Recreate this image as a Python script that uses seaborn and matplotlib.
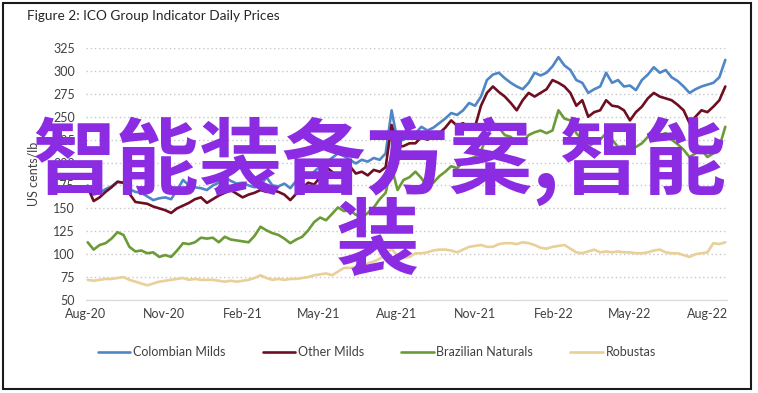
import pandas as pd
import matplotlib.pyplot as plt
import matplotlib.dates as mdates
import seaborn as sns

# weekly ICO group indicator prices (US cents/lb)
start_date = '2020-08-03'
colombian = [175, 165, 167, 171, 174, 179, 178, 171, 168, 167, 163, 159, 161, 162, 160, 170,
             181, 175, 173, 172, 170, 175, 178, 184, 180, 177, 178, 175, 173, 175, 184, 175,
             174, 177, 172, 180, 186, 183, 190, 196, 200, 205, 210, 207, 203, 199, 203, 201,
             205, 203, 210, 257, 223, 225, 228, 232, 239, 235, 238, 243, 248, 254, 252, 257,
             265, 262, 272, 290, 296, 298, 292, 287, 283, 280, 287, 298, 295, 298, 305, 315,
             306, 301, 290, 287, 276, 280, 283, 298, 287, 290, 283, 284, 279, 290, 296, 304,
             298, 301, 293, 289, 283, 276, 280, 283, 285, 287, 293, 312]
other = [173, 158, 162, 168, 173, 179, 178, 166, 157, 156, 155, 152, 150, 148, 145, 150,
         153, 156, 160, 162, 156, 160, 164, 167, 170, 166, 162, 165, 167, 170, 168, 170,
         168, 165, 159, 166, 172, 178, 176, 184, 195, 190, 184, 192, 196, 188, 190, 186,
         192, 190, 195, 241, 217, 218, 221, 221, 228, 225, 228, 232, 238, 246, 240, 243,
         237, 239, 262, 276, 283, 277, 272, 265, 257, 268, 276, 272, 276, 280, 290, 287,
         283, 276, 262, 268, 250, 255, 257, 268, 262, 261, 257, 246, 255, 261, 270, 276,
         272, 270, 268, 263, 257, 243, 250, 257, 255, 261, 268, 283]
brazilian = [113, 105, 110, 112, 117, 124, 121, 108, 103, 104, 101, 102, 97, 99, 97, 104,
             112, 111, 113, 118, 117, 118, 113, 119, 116, 115, 114, 113, 120, 130, 126, 123,
             121, 117, 112, 116, 119, 126, 135, 140, 137, 144, 151, 147, 148, 143, 140, 145,
             151, 160, 167, 195, 170, 181, 184, 190, 183, 173, 178, 185, 190, 196, 194, 200,
             204, 206, 212, 230, 239, 238, 230, 228, 221, 222, 230, 233, 235, 232, 235, 257,
             248, 246, 232, 225, 217, 222, 225, 232, 225, 217, 218, 214, 217, 221, 228, 235,
             230, 232, 225, 220, 214, 206, 210, 214, 206, 210, 217, 239]
robustas = [72, 71, 72, 73, 73, 74, 75, 72, 70, 68, 66, 68, 70, 71, 72, 73,
            74, 72, 73, 72, 72, 72, 71, 70, 71, 70, 71, 72, 74, 77, 74, 72,
            73, 72, 73, 73, 74, 75, 77, 78, 79, 77, 81, 85, 85, 86, 88, 90,
            92, 95, 100, 106, 98, 96, 97, 101, 101, 102, 104, 105, 105, 104, 102, 105,
            108, 109, 110, 108, 108, 111, 112, 112, 111, 113, 112, 110, 107, 106, 108, 109,
            110, 106, 102, 101, 103, 105, 102, 103, 102, 103, 102, 102, 101, 101, 102, 104,
            105, 102, 101, 101, 99, 97, 100, 101, 102, 112, 111, 113]

groups = ['Colombian Milds', 'Other Milds', 'Brazilian Naturals', 'Robustas']
colors = ['#4f86c6', '#6d0e21', '#6b9b37', '#e9cf98']

dates = pd.date_range(start_date, periods=len(colombian), freq='7D')
df = pd.DataFrame({'date': dates, 'Colombian Milds': colombian, 'Other Milds': other,
                   'Brazilian Naturals': brazilian, 'Robustas': robustas})
df = df.melt(id_vars='date', var_name='group', value_name='price')

sns.set_style('white')
plt.rcParams['font.family'] = ['Lato', 'Noto Sans CJK SC', 'DejaVu Sans']

fig = plt.figure(figsize=(7.58, 3.93), dpi=100)
ax = fig.add_axes([86 / 758, 1 - 300 / 393, 641 / 758, 252 / 393])

sns.lineplot(data=df, x='date', y='price', hue='group', hue_order=groups,
             palette=colors, linewidth=1.9, ax=ax, legend=True)

ax.set_xlim(pd.Timestamp('2020-08-01'), pd.Timestamp('2022-08-24'))
ax.set_ylim(50, 325)
ax.set_yticks(range(50, 326, 25))
ax.xaxis.set_major_locator(mdates.MonthLocator(bymonth=[2, 5, 8, 11]))
ax.xaxis.set_major_formatter(mdates.DateFormatter('%b-%y'))
ax.grid(axis='y', linestyle=(0, (1, 2)), color='#c8c8c8', linewidth=1)
ax.grid(axis='x', visible=False)
for s in ['top', 'right', 'left']:
    ax.spines[s].set_visible(False)
ax.spines['bottom'].set_color('#d9d9d9')
ax.tick_params(length=0, labelsize=9, colors='#404040', pad=8)
ax.tick_params(axis='x', pad=6)
ax.set_xlabel('')
ax.set_ylabel('US cents/lb', fontsize=9, color='#404040', labelpad=10)

handles, labels = ax.get_legend_handles_labels()
ax.get_legend().remove()
fig.legend(handles, labels, loc='center', bbox_to_anchor=(0.497, 1 - 352 / 393), ncol=4,
           frameon=False, fontsize=9, handlelength=2.6, handletextpad=0.2,
           columnspacing=3.0, labelcolor='#404040')

fig.text(27 / 758, 1 - 16 / 393, 'Figure 2: ICO Group Indicator Daily Prices',
         fontsize=9.8, color='#262626', va='center', ha='left')

# outer frame
fig.patches.append(plt.Rectangle((3 / 758, 4 / 393), 748 / 758, 386 / 393,
                                 transform=fig.transFigure, fill=False,
                                 edgecolor='#1a1a1a', linewidth=1.5))

# overlaid watermark text
fig.text(380 / 758, 1 - 161 / 393, '智能装备方案,智能', fontsize=60, fontweight='bold',
         color='#8b2be2', ha='center', va='center', family=['Noto Sans CJK SC'], zorder=10)
fig.text(378 / 758, 1 - 243 / 393, '装', fontsize=60, fontweight='bold',
         color='#8b2be2', ha='center', va='center', family=['Noto Sans CJK SC'], zorder=10)

fig.savefig('out.png', dpi=100)
